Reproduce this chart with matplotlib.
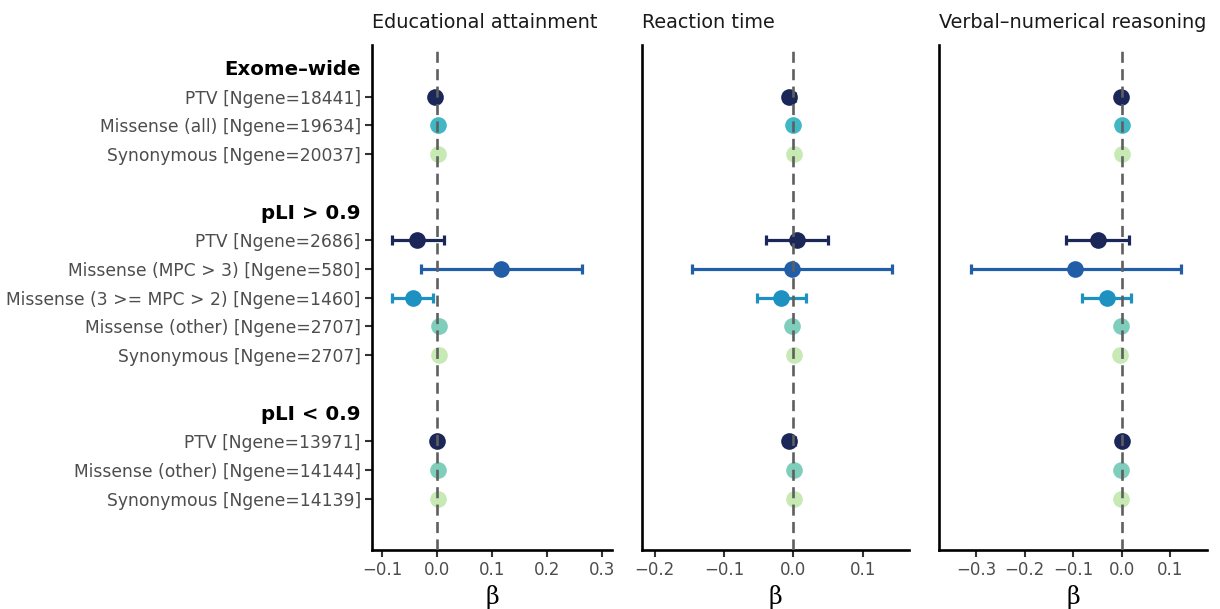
import matplotlib.pyplot as plt
import numpy as np

# row layout (top to bottom); None marks a blank spacer row
ROW_LABELS = [
    "Exome\u2013wide",
    "PTV [Ngene=18441]",
    "Missense (all) [Ngene=19634]",
    "Synonymous [Ngene=20037]",
    None,
    "pLI > 0.9",
    "PTV [Ngene=2686]",
    "Missense (MPC > 3) [Ngene=580]",
    "Missense (3 >= MPC > 2) [Ngene=1460]",
    "Missense (other) [Ngene=2707]",
    "Synonymous [Ngene=2707]",
    None,
    "pLI < 0.9",
    "PTV [Ngene=13971]",
    "Missense (other) [Ngene=14144]",
    "Synonymous [Ngene=14139]",
    None,
]
HEADER_ROWS = [0, 5, 12]
DATA_ROWS = [1, 2, 3, 6, 7, 8, 9, 10, 13, 14, 15]
CLASSES = ["PTV", "Missense (all)", "Synonymous",
           "PTV", "Missense (MPC > 3)", "Missense (3 >= MPC > 2)", "Missense (other)", "Synonymous",
           "PTV", "Missense (other)", "Synonymous"]

CLASS_COLORS = {
    "PTV": "#1b2659",
    "Missense (all)": "#41b6c4",
    "Missense (MPC > 3)": "#225ea8",
    "Missense (3 >= MPC > 2)": "#1d91c0",
    "Missense (other)": "#7fcdbb",
    "Synonymous": "#c7e9b4",
}

PHENOTYPES = ["Educational attainment", "Reaction time", "Verbal\u2013numerical reasoning"]

# effect sizes and 95% CI, one entry per data row
ea_beta = [-0.004, 0.002, 0.002, -0.036, 0.116, -0.045, 0.003, 0.003, -0.001, 0.002, 0.002]
ea_lo = [-0.011, -0.001, -0.001, -0.082, -0.029, -0.082, 0.000, 0.000, -0.006, -0.001, -0.001]
ea_hi = [0.003, 0.005, 0.005, 0.012, 0.264, -0.008, 0.006, 0.006, 0.004, 0.005, 0.005]

rt_beta = [-0.006, 0.000, 0.001, 0.005, -0.002, -0.018, -0.002, 0.001, -0.006, 0.001, 0.001]
rt_lo = [-0.013, -0.004, -0.003, -0.039, -0.146, -0.053, -0.007, -0.004, -0.014, -0.003, -0.003]
rt_hi = [0.002, 0.004, 0.005, 0.050, 0.142, 0.018, 0.003, 0.006, 0.003, 0.005, 0.005]

vnr_beta = [-0.001, 0.000, 0.000, -0.049, -0.096, -0.030, -0.001, -0.004, 0.001, -0.001, -0.001]
vnr_lo = [-0.008, -0.005, -0.005, -0.115, -0.311, -0.082, -0.007, -0.010, -0.007, -0.006, -0.006]
vnr_hi = [0.006, 0.005, 0.005, 0.015, 0.122, 0.019, 0.005, 0.002, 0.009, 0.004, 0.004]

RESULTS = [(ea_beta, ea_lo, ea_hi), (rt_beta, rt_lo, rt_hi), (vnr_beta, vnr_lo, vnr_hi)]
XLIMS = [(-0.1187, 0.3176), (-0.2188, 0.167), (-0.376, 0.176)]
XTICKS = [[-0.1, 0.0, 0.1, 0.2, 0.3], [-0.2, -0.1, 0.0, 0.1], [-0.3, -0.2, -0.1, 0.0, 0.1]]

# panel rectangles in figure fractions (left, width)
PANELS = [(0.3049, 0.1967), (0.5260, 0.2191), (0.7699, 0.2194)]
BOTTOM, HEIGHT = 0.0969, 0.8292

plt.rcParams["font.family"] = ["DejaVu Sans"]

fig = plt.figure(figsize=(12.2, 6.09), dpi=100)

for k, (pheno, (beta, lo, hi)) in enumerate(zip(PHENOTYPES, RESULTS)):
    left, width = PANELS[k]
    ax = fig.add_axes([left, BOTTOM, width, HEIGHT])

    for row, cls, b, l, h in zip(DATA_ROWS, CLASSES, beta, lo, hi):
        c = CLASS_COLORS[cls]
        ax.errorbar(b, row, xerr=[[b - l], [h - b]], fmt="none", ecolor=c,
                    elinewidth=2.3, capsize=3.6, capthick=2.3, zorder=2)
        ax.plot(b, row, "o", color=c, markersize=12, markeredgewidth=0, zorder=3)

    ax.axvline(0, color="#5f5f5f", lw=1.9, ls=(0, (4.2, 2.4)), zorder=4)

    ax.set_xlim(*XLIMS[k])
    ax.set_ylim(16.79, -0.80)
    ax.set_xticks(XTICKS[k])
    ax.set_xticklabels([f"{t:.1f}".replace("-", "\u2212") for t in XTICKS[k]])
    ax.tick_params(axis="x", length=5, width=1.5, color="#333333",
                   labelcolor="#4d4d4d", labelsize=12, pad=3)
    ax.set_xlabel("\u03b2", family="DejaVu Serif", fontsize=17, labelpad=4)

    for side in ("top", "right"):
        ax.spines[side].set_visible(False)
    for side in ("left", "bottom"):
        ax.spines[side].set_linewidth(1.9)
        ax.spines[side].set_color("black")

    ax.set_title(pheno, loc="left", fontsize=13.9, pad=12, color="#1a1a1a")

    if k == 0:
        label_rows = [i for i, t in enumerate(ROW_LABELS) if t is not None]
        ax.set_yticks(label_rows)
        ax.set_yticklabels([ROW_LABELS[i] for i in label_rows])
        ax.tick_params(axis="y", length=5, width=1.5, color="#333333",
                       labelcolor="#4d4d4d", labelsize=12.3, pad=3)
        for tick, row in zip(ax.yaxis.get_major_ticks(), label_rows):
            if row in HEADER_ROWS:
                tick.tick1line.set_visible(False)
                tick.label1.set_fontweight("bold")
                tick.label1.set_fontsize(14.2)
                tick.label1.set_color("black")
    else:
        ax.set_yticks([])

fig.savefig("out.png", dpi=100)
